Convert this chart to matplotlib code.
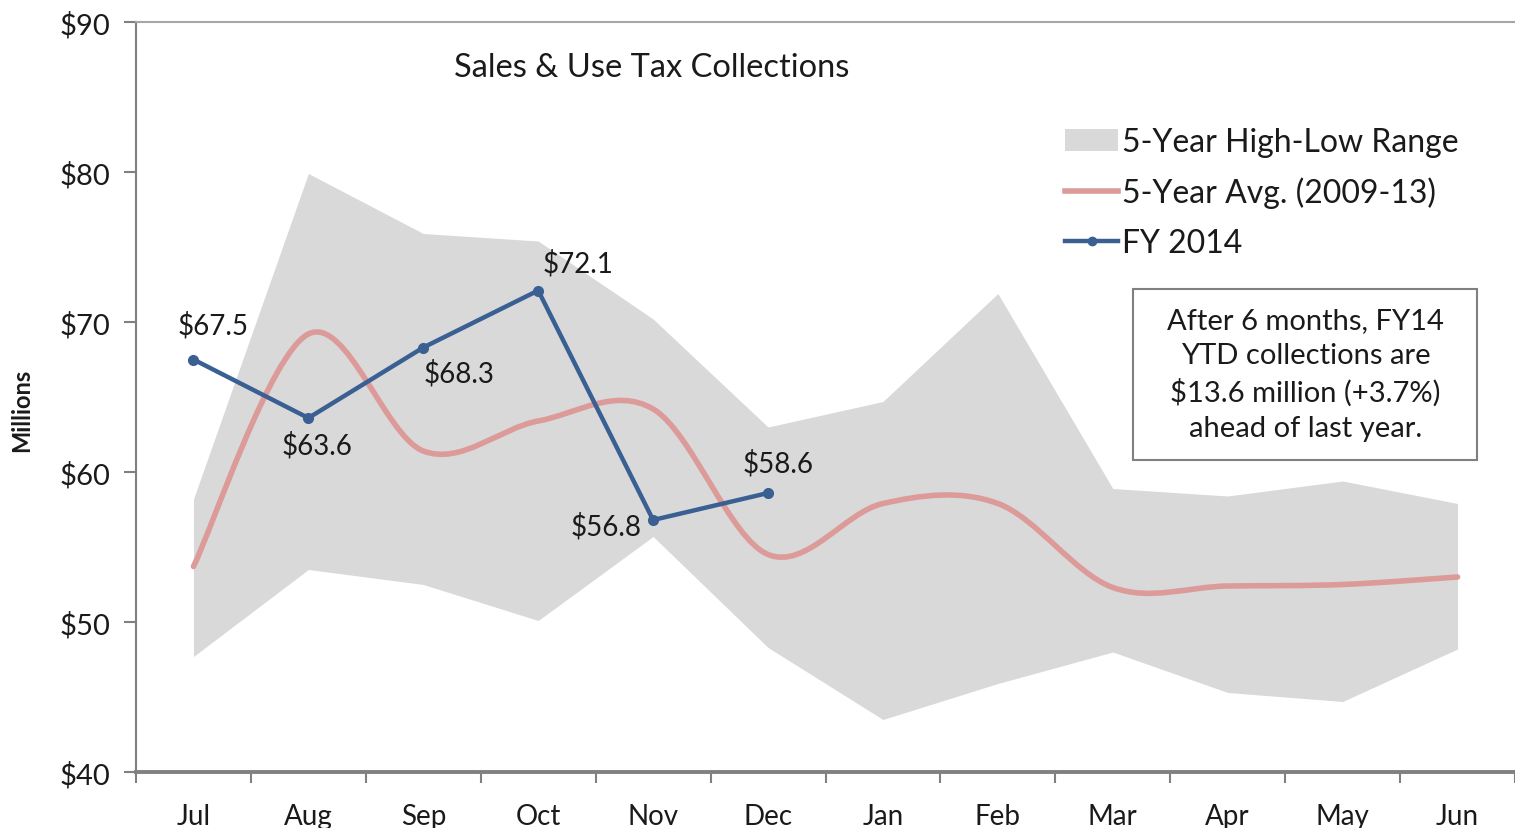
import matplotlib.pyplot as plt
from matplotlib.path import Path
from matplotlib.patches import PathPatch, Patch, Rectangle
from matplotlib.lines import Line2D
import numpy as np

plt.rcParams['font.family'] = ['Lato', 'DejaVu Sans']

months = ['Jul', 'Aug', 'Sep', 'Oct', 'Nov', 'Dec', 'Jan', 'Feb', 'Mar', 'Apr', 'May', 'Jun']
range_high = [58.2, 79.9, 75.9, 75.4, 70.2, 63.0, 64.7, 71.9, 58.9, 58.4, 59.4, 57.9]
range_low = [47.7, 53.5, 52.5, 50.1, 55.7, 48.3, 43.5, 45.9, 48.0, 45.3, 44.7, 48.2]
avg_5yr = [53.7, 69.2, 61.4, 63.4, 64.2, 54.5, 57.9, 57.9, 52.3, 52.4, 52.5, 53.0]
fy2014 = [67.5, 63.6, 68.3, 72.1, 56.8, 58.6]
yticks = [40, 50, 60, 70, 80, 90]

# label offsets in points (dx, dy) for the FY 2014 data labels
label_offsets = [(14, 25), (6, -19), (26, -18), (29, 20), (-34, -4), (7, 22)]


def smooth_path(xs, ys, k=1/6):
    # Excel-style smoothed line as cubic bezier segments
    pts = np.column_stack([xs, ys])
    verts = [tuple(pts[0])]
    codes = [Path.MOVETO]
    n = len(pts)
    for i in range(n - 1):
        p_prev = pts[i - 1] if i > 0 else pts[i]
        p_next2 = pts[i + 2] if i + 2 < n else pts[i + 1]
        c1 = pts[i] + (pts[i + 1] - p_prev) * k
        c2 = pts[i + 1] - (p_next2 - pts[i]) * k
        verts += [tuple(c1), tuple(c2), tuple(pts[i + 1])]
        codes += [Path.CURVE4] * 3
    return Path(verts, codes)


fig = plt.figure(figsize=(15.15, 8.29), dpi=100)
ax = fig.add_axes([136 / 1515, 1 - 773 / 829, (1515 - 136) / 1515, (773 - 23) / 829])

x = np.arange(len(months))
grey = '#d9d9d9'
pink = '#dc9a99'
blue = '#3a5f93'
txt = '#1a1a1a'

ax.fill_between(x, range_low, range_high, color=grey, lw=0, zorder=1)
ax.add_patch(PathPatch(smooth_path(x, avg_5yr), fill=False, edgecolor=pink,
                       lw=4, capstyle='round', zorder=2))
xf = np.arange(len(fy2014))
ax.plot(xf, fy2014, color=blue, lw=3.2, marker='o', markersize=7, zorder=3)

for i, v in enumerate(fy2014):
    dx, dy = label_offsets[i]
    ax.annotate(f'${v}', (i, v), xytext=(dx, dy), textcoords='offset points',
                ha='center', va='center', fontsize=20, color=txt, zorder=4)

ax.set_xlim(-0.5, 11.46)
ax.set_ylim(40, 90)
ax.set_yticks(yticks)
ax.set_yticklabels([f'${t}' for t in yticks])
ax.set_xticks(x)
ax.set_xticklabels(months)
ax.set_xticks(np.arange(-0.5, 12, 1), minor=True)
ax.tick_params(axis='x', which='major', length=0, pad=22, labelsize=20, labelcolor=txt)
ax.tick_params(axis='x', which='minor', length=8, width=1.5, color='#808080', direction='out')
ax.tick_params(axis='y', length=9, width=1.5, color='#808080', pad=9.5, labelsize=21, labelcolor=txt)

ax.spines['right'].set_visible(False)
ax.spines['left'].set_color('#808080')
ax.spines['left'].set_linewidth(1.5)
ax.spines['bottom'].set_color('#808080')
ax.spines['bottom'].set_linewidth(2.8)
ax.spines['top'].set_color('#a6a6a6')
ax.spines['top'].set_linewidth(1.5)

ax.set_ylabel('Millions', fontsize=17, color=txt, fontweight='bold')
ax.yaxis.set_label_coords(-0.0747, 0.484)

ax.text(0.374, 0.94, 'Sales & Use Tax Collections', transform=ax.transAxes,
        ha='center', va='center', fontsize=23.5, color=txt)

handles = [
    Patch(facecolor=grey, edgecolor='none'),
    Line2D([0], [0], color=pink, lw=4),
    Line2D([0], [0], color=blue, lw=3.2, marker='o', markersize=6),
]
labels = ['5-Year High-Low Range', '5-Year Avg. (2009-13)', 'FY 2014']
ax.legend(handles, labels, loc='upper left', bbox_to_anchor=(0.674, 0.86), frameon=False,
          fontsize=23, handlelength=1.65, handletextpad=0.12, labelspacing=0.62,
          borderaxespad=0, borderpad=0, labelcolor=txt)

ax.add_patch(Rectangle((0.723, 0.416), 0.2495, 0.228, transform=ax.transAxes,
                       facecolor='white', edgecolor='#808080', lw=1.5, zorder=5))
ax.text(0.848, 0.531, 'After 6 months, FY14\nYTD collections are\n$13.6 million (+3.7%)\nahead of last year.',
        transform=ax.transAxes, ha='center', va='center', fontsize=21,
        linespacing=1.42, color=txt, zorder=6)

fig.savefig('out.png', dpi=100)
